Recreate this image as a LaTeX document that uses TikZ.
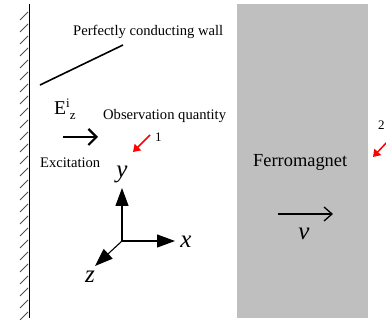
\documentclass[tikz,border=0pt]{standalone}
\usepackage{fontspec}
\setmainfont{Liberation Serif}
\usetikzlibrary{arrows.meta}

\begin{document}
\begin{tikzpicture}[x=1pt,y=-1pt]
\useasboundingbox (0,0) rectangle (386,320);
\tikzset{
  lbl/.style={inner sep=0pt,anchor=base west,font=\fontsize{14.6}{16}\selectfont},
  axlbl/.style={inner sep=0pt,font=\fontsize{25}{27}\selectfont\itshape},
  redarr/.style={red,line width=1.5pt,-{Triangle[length=7pt,width=9pt]}},
  axarr/.style={line width=1.1pt,-{Triangle[length=18pt,width=13pt]}}
}

% Ferromagnet slab
\fill[gray!50] (237,4) rectangle (368,318);
\node[lbl,font=\fontsize{18.4}{20}\selectfont] (ferro) at (253,167) {Ferromagnet};
\coordinate (vs) at (278,214);
\coordinate (ve) at (333,214);
\draw[line width=1.3pt,-{Straight Barb[length=8pt,width=14pt]}] (vs) -- (ve);
\node[axlbl] (vel) at (304,234) {v};

% Perfectly conducting wall
\draw[line width=1pt] (29,4) -- (29,318);
\foreach \y in {12,24,...,312}
  \draw[line width=1pt,gray!60!black] (20,\y+8) -- (28,\y);
\node[lbl] (wall) at (73,36) {Perfectly conducting wall};
\coordinate (wa) at (40,85);
\coordinate (wb) at (123,45);
\draw[line width=1.6pt] (wa) -- (wb);

% Excitation
\node[lbl,font=\fontsize{19.6}{22}\selectfont] (exc) at (54,115)
  {E\raisebox{7pt}{\fontsize{13}{14}\selectfont i}\raisebox{-5pt}{\fontsize{13}{14}\selectfont z}};
\coordinate (es) at (63,137);
\coordinate (ee) at (98,137);
\draw[line width=2.2pt,-{Straight Barb[length=8pt,width=16pt]}] (es) -- (ee);
\node[lbl] (exctext) at (40,168) {Excitation};

% Observation points
\node[lbl] (obs) at (103,120) {Observation quantity};
\node[lbl,font=\fontsize{13}{14}\selectfont] (p1) at (155,142) {1};
\coordinate (p1s) at (150,135);
\coordinate (p1e) at (133,152);
\draw[redarr] (p1s) -- (p1e);
\node[lbl,font=\fontsize{13}{14}\selectfont] (p2) at (378,130) {2};
\coordinate (p2s) at (388,141);
\coordinate (p2e) at (373,157);
\draw[redarr] (p2s) -- (p2e);

% Axes
\coordinate (o) at (122,241);
\coordinate (ytip) at (122,188);
\coordinate (xtip) at (175,241);
\coordinate (ztip) at (95,266);
\draw[axarr] (o) -- (ytip);
\draw[axarr] (o) -- (xtip);
\draw[axarr] (o) -- (ztip);
\node[axlbl] (ylbl) at (122,174) {y};
\node[axlbl] (xlbl) at (186,242) {x};
\node[axlbl] (zlbl) at (90,277) {z};

\end{tikzpicture}
\end{document}
